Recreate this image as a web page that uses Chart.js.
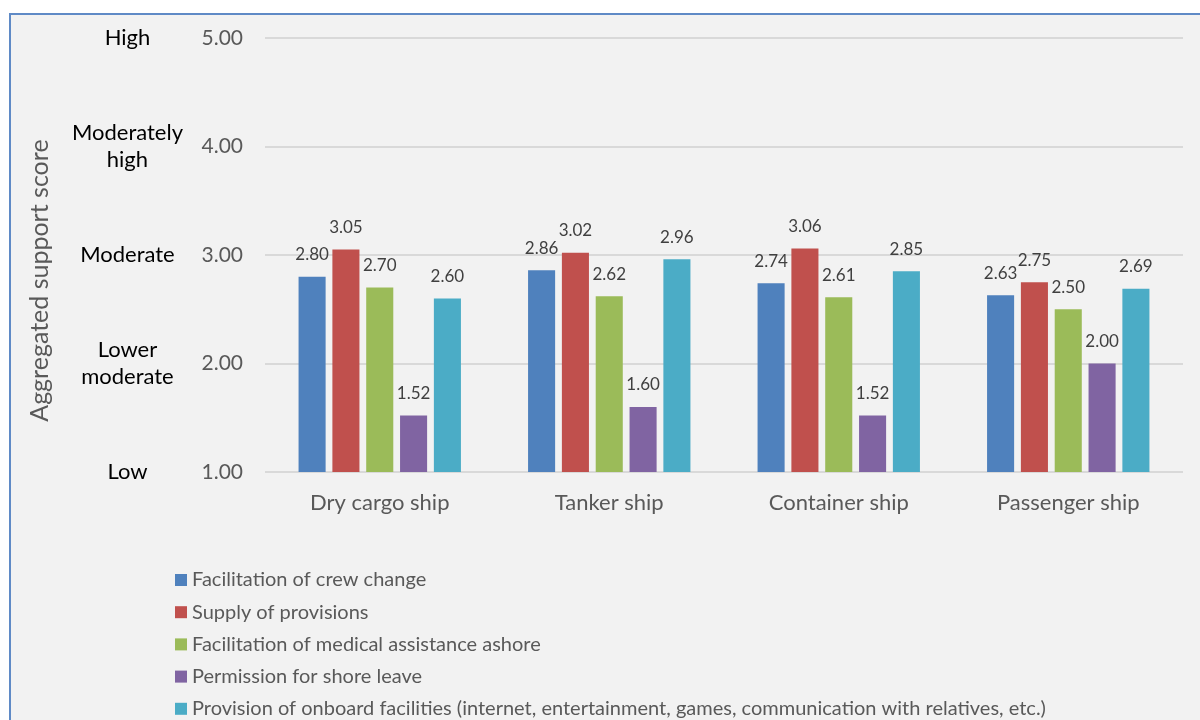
<!DOCTYPE html>
<html>
<head>
<meta charset="utf-8">
<script src="https://cdn.jsdelivr.net/npm/chart.js@4"></script>
<style>
  html, body { margin: 0; padding: 0; background: #fff; }
  #wrap {
    position: absolute; left: 9px; top: 13px;
    width: 1189px; height: 705px;
    background: #f2f2f2;
    border-top: 2px solid #5f8ac6;
    border-left: 2px solid #5f8ac6;
  }
</style>
</head>
<body>
<div id="wrap"><canvas id="myChart" width="1189" height="705"></canvas></div>
<script>
// ===== data =====
const categories = ['Dry cargo ship', 'Tanker ship', 'Container ship', 'Passenger ship'];
const crewChange = [2.80, 2.86, 2.74, 2.63];
const provisions = [3.05, 3.02, 3.06, 2.75];
const medical = [2.70, 2.62, 2.61, 2.50];
const shoreLeave = [1.52, 1.60, 1.52, 2.00];
const facilities = [2.60, 2.96, 2.85, 2.69];
const levelLabels = ['Low', ['Lower', 'moderate'], 'Moderate', ['Moderately', 'high'], 'High'];

const FONT = 'Lato';

// 棒の上に値を表示
const valueLabels = {
  id: 'valueLabels',
  afterDatasetsDraw(chart) {
    const ctx = chart.ctx;
    ctx.save();
    ctx.font = `17px ${FONT}`;
    ctx.fillStyle = '#404040';
    ctx.textAlign = 'center';
    ctx.textBaseline = 'middle';
    chart.data.datasets.forEach((ds, i) => {
      chart.getDatasetMeta(i).data.forEach((bar, j) => {
        ctx.fillText(ds.data[j].toFixed(2), bar.x, bar.y - 22);
      });
    });
    ctx.restore();
  }
};

// 凡例（縦一列）
const columnLegend = {
  id: 'columnLegend',
  afterDraw(chart) {
    const ctx = chart.ctx;
    const left = chart.chartArea.left - 90;
    const top = chart.chartArea.bottom + 108;
    ctx.save();
    ctx.font = `20px ${FONT}`;
    ctx.textBaseline = 'middle';
    ctx.textAlign = 'left';
    chart.data.datasets.forEach((ds, i) => {
      const y = top + i * 32.2;
      ctx.fillStyle = ds.backgroundColor;
      ctx.fillRect(left, y - 6, 12, 12);
      ctx.fillStyle = '#595959';
      ctx.fillText(ds.label, left + 17, y);
    });
    ctx.restore();
  }
};

// 縦軸ラベルのはみ出し分の余白を無効にする
function noOverflowPadding(s) {
  s.paddingTop = 0;
  s.paddingBottom = 0;
}

const data = {
  labels: categories,
  datasets: [
    { label: 'Facilitation of crew change', data: crewChange, backgroundColor: '#4f81bd' },
    { label: 'Supply of provisions', data: provisions, backgroundColor: '#c0504d' },
    { label: 'Facilitation of medical assistance ashore', data: medical, backgroundColor: '#9bbb59' },
    { label: 'Permission for shore leave', data: shoreLeave, backgroundColor: '#8064a2' },
    { label: 'Provision of onboard facilities (internet, entertainment, games, communication with relatives, etc.)', data: facilities, backgroundColor: '#4bacc6' },
  ],
};

const config = {
  type: 'bar',
  data,
  options: {
    responsive: false,
    animation: false,
    layout: { padding: { top: 23, right: 17, bottom: 188, left: 0 } },
    datasets: { bar: { categoryPercentage: 0.737, barPercentage: 0.8 } },
    plugins: { legend: { display: false }, tooltip: { enabled: false } },
    scales: {
      x: {
        grid: { display: false },
        border: { display: false },
        ticks: { color: '#595959', font: { family: FONT, size: 22 }, padding: 10 },
        afterFit(s) { s.height = 60; }
      },
      y: {
        position: 'left', weight: 0,
        min: 1, max: 5,
        ticks: { stepSize: 1, padding: 22, color: '#595959', font: { family: FONT, size: 21 },
                 callback: v => v.toFixed(2) },
        grid: { color: '#d9d9d9', lineWidth: 2, drawTicks: false },
        border: { display: false },
        afterFit(s) { s.width = 80; noOverflowPadding(s); }
      },
      level: {
        position: 'left', weight: 1,
        min: 1, max: 5,
        ticks: { stepSize: 1, crossAlign: 'center', padding: 2, color: '#000',
                 font: { family: FONT, size: 22 },
                 callback: v => levelLabels[Math.round(v) - 1] },
        grid: { display: false, drawTicks: false },
        border: { display: false },
        title: { display: true, text: 'Aggregated support score        ', color: '#595959',
                 font: { family: FONT, size: 25 }, padding: { top: 14, bottom: 0 } },
        afterFit(s) { s.width = 174; noOverflowPadding(s); }
      }
    }
  },
  plugins: [valueLabels, columnLegend]
};

new Chart(document.getElementById('myChart'), config);
</script>
</body>
</html>
